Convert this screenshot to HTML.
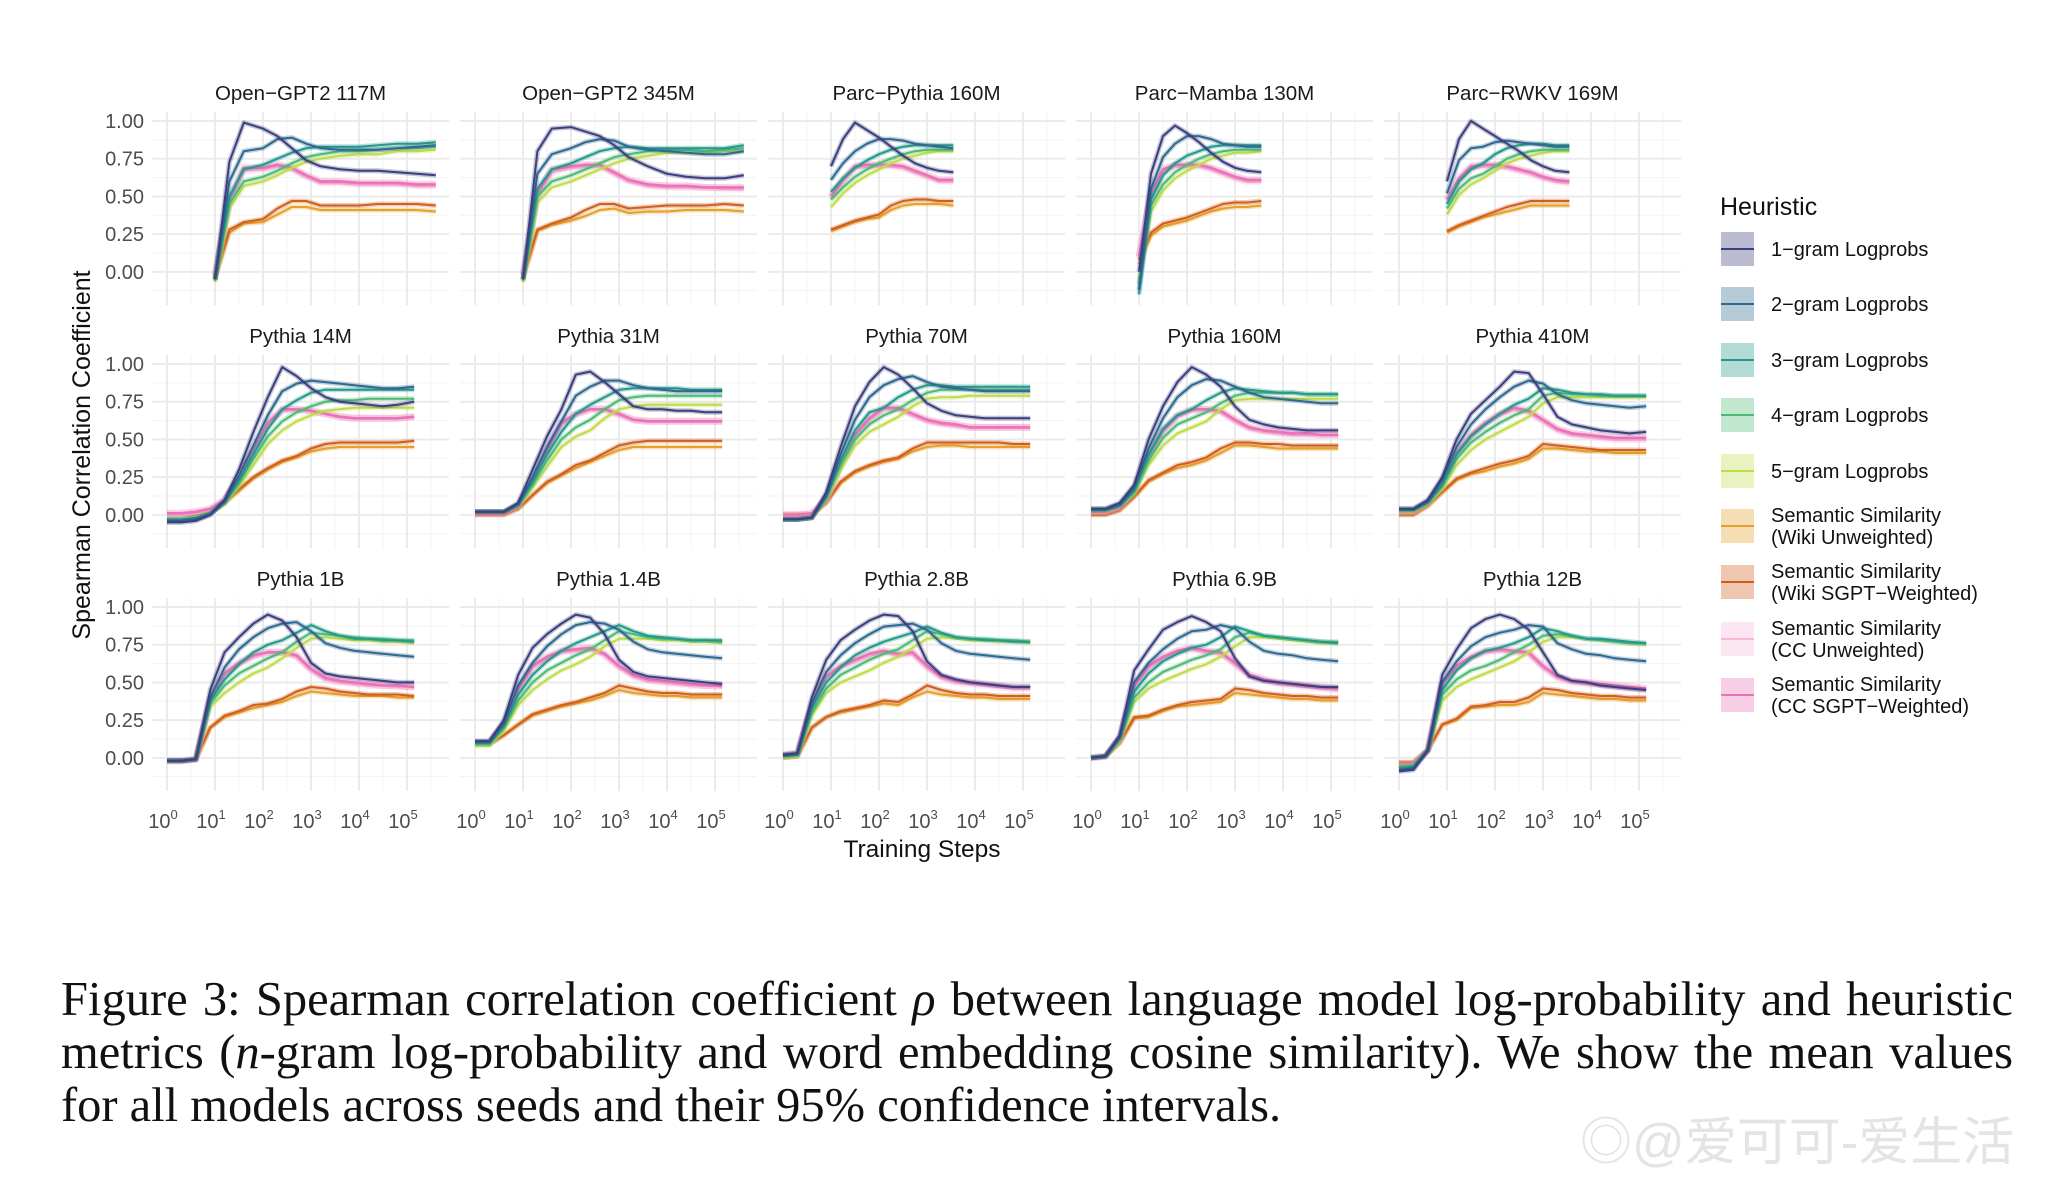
<!DOCTYPE html>
<html><head><meta charset="utf-8">
<style>
html,body{margin:0;padding:0;background:#fff;}
body{width:2064px;height:1182px;overflow:hidden;position:relative;}
svg{position:absolute;left:0;top:0;}
.cap{position:absolute;left:61px;width:1952px;font-family:"Liberation Serif",serif;font-size:48.5px;color:#111;white-space:nowrap;}
.j{text-align:justify;text-align-last:justify;}
.wm{position:absolute;left:1580px;top:1100px;font-family:"Liberation Sans","Noto Sans CJK SC",sans-serif;font-size:52px;color:#e4e4e4;}
</style></head>
<body>
<svg id="chart" width="2064" height="1182" xmlns="http://www.w3.org/2000/svg"></svg>
<div class="cap j" style="top:972px">Figure 3: Spearman correlation coefficient <i>ρ</i> between language model log-probability and heuristic</div>
<div class="cap j" style="top:1025px">metrics (<i>n</i>-gram log-probability and word embedding cosine similarity). We show the mean values</div>
<div class="cap" style="top:1078px">for all models across seeds and their 95% confidence intervals.</div>
<div class="wm">◎@爱可可-爱生活</div>
<script>
const panelTitles=["Open−GPT2 117M","Open−GPT2 345M","Parc−Pythia 160M","Parc−Mamba 130M","Parc−RWKV 169M","Pythia 14M","Pythia 31M","Pythia 70M","Pythia 160M","Pythia 410M","Pythia 1B","Pythia 1.4B","Pythia 2.8B","Pythia 6.9B","Pythia 12B"];
const seriesNames=["1−gram Logprobs","2−gram Logprobs","3−gram Logprobs","4−gram Logprobs","5−gram Logprobs","Semantic Similarity|(Wiki Unweighted)","Semantic Similarity|(Wiki SGPT−Weighted)","Semantic Similarity|(CC Unweighted)","Semantic Similarity|(CC SGPT−Weighted)"];
const seriesColors=["#3b3f7e","#2f6890","#22998a","#4dba74","#bfdc48","#e6a027","#d05e1c","#f6b8da","#ea72b6"];
const yTicks=[0,0.25,0.5,0.75,1.0];
const yTickLabels=["0.00","0.25","0.50","0.75","1.00"];
const xTicks=[0,1,2,3,4,5];
const xGptLog=[1.0,1.3,1.6,2.0,2.3,2.6,2.9,3.2,3.6,4.0,4.4,4.8,5.2,5.6];
const xParcLog=[1.0,1.25,1.5,1.75,2.0,2.25,2.5,2.75,3.0,3.25,3.55];
const xPythiaLog=[0,0.3,0.6,0.9,1.2,1.5,1.8,2.1,2.4,2.7,3.0,3.3,3.6,3.9,4.2,4.5,4.8,5.15];
const gpt117=[
[-0.05,0.73,0.99,0.95,0.9,0.82,0.74,0.7,0.68,0.67,0.67,0.66,0.65,0.64],
[-0.05,0.6,0.8,0.82,0.88,0.89,0.85,0.82,0.81,0.81,0.81,0.82,0.83,0.84],
[-0.05,0.5,0.68,0.71,0.75,0.79,0.82,0.83,0.83,0.83,0.84,0.85,0.85,0.86],
[-0.06,0.45,0.6,0.63,0.67,0.72,0.76,0.78,0.8,0.8,0.81,0.82,0.82,0.83],
[-0.07,0.42,0.57,0.6,0.64,0.69,0.73,0.75,0.77,0.78,0.78,0.8,0.8,0.81],
[-0.05,0.26,0.32,0.33,0.38,0.43,0.43,0.41,0.41,0.41,0.41,0.41,0.41,0.4],
[-0.03,0.28,0.33,0.35,0.42,0.47,0.47,0.44,0.44,0.44,0.45,0.45,0.45,0.44],
[-0.02,0.45,0.67,0.68,0.7,0.68,0.63,0.59,0.59,0.58,0.58,0.58,0.57,0.57],
[-0.02,0.48,0.69,0.69,0.71,0.69,0.64,0.6,0.6,0.59,0.59,0.59,0.58,0.58]];
const gpt345=[
[-0.05,0.8,0.95,0.96,0.93,0.9,0.84,0.76,0.7,0.65,0.63,0.62,0.62,0.64],
[-0.05,0.65,0.78,0.82,0.86,0.88,0.87,0.83,0.81,0.8,0.79,0.78,0.78,0.8],
[-0.05,0.55,0.68,0.72,0.76,0.8,0.82,0.83,0.82,0.82,0.82,0.82,0.82,0.84],
[-0.06,0.5,0.6,0.64,0.68,0.72,0.76,0.78,0.8,0.81,0.81,0.8,0.81,0.82],
[-0.07,0.46,0.56,0.6,0.64,0.68,0.72,0.75,0.77,0.79,0.79,0.79,0.8,0.8],
[-0.05,0.27,0.31,0.34,0.37,0.41,0.42,0.39,0.4,0.4,0.41,0.41,0.41,0.4],
[-0.03,0.28,0.32,0.36,0.41,0.45,0.45,0.42,0.43,0.44,0.44,0.44,0.45,0.44],
[-0.02,0.5,0.66,0.69,0.7,0.7,0.65,0.6,0.57,0.56,0.56,0.56,0.55,0.55],
[-0.02,0.52,0.68,0.7,0.71,0.71,0.66,0.61,0.58,0.57,0.57,0.56,0.56,0.56]];
const parcPythia=[
[0.7,0.88,0.99,0.94,0.89,0.83,0.77,0.72,0.69,0.67,0.66],
[0.61,0.72,0.8,0.85,0.88,0.88,0.87,0.85,0.84,0.83,0.82],
[0.53,0.62,0.69,0.74,0.78,0.81,0.83,0.84,0.84,0.84,0.84],
[0.48,0.56,0.63,0.68,0.72,0.75,0.78,0.8,0.81,0.81,0.81],
[0.43,0.52,0.59,0.64,0.68,0.72,0.75,0.77,0.79,0.8,0.8],
[0.27,0.3,0.33,0.35,0.36,0.41,0.44,0.45,0.45,0.45,0.44],
[0.28,0.31,0.34,0.36,0.38,0.44,0.47,0.48,0.48,0.47,0.47],
[0.49,0.6,0.69,0.7,0.7,0.7,0.69,0.66,0.63,0.6,0.6],
[0.5,0.61,0.7,0.71,0.71,0.71,0.7,0.67,0.64,0.61,0.61]];
const parcMamba=[
[0.0,0.65,0.9,0.97,0.92,0.86,0.79,0.73,0.69,0.67,0.66],
[-0.12,0.55,0.76,0.85,0.9,0.9,0.88,0.85,0.84,0.83,0.83],
[-0.15,0.48,0.64,0.72,0.77,0.8,0.83,0.84,0.84,0.84,0.84],
[-0.08,0.44,0.58,0.66,0.71,0.75,0.78,0.8,0.81,0.81,0.81],
[-0.06,0.4,0.54,0.62,0.67,0.71,0.75,0.77,0.79,0.79,0.8],
[0.05,0.24,0.3,0.32,0.34,0.37,0.4,0.42,0.43,0.43,0.44],
[0.08,0.26,0.32,0.34,0.36,0.39,0.42,0.45,0.46,0.46,0.47],
[0.1,0.5,0.66,0.7,0.7,0.7,0.68,0.65,0.62,0.6,0.6],
[0.1,0.52,0.68,0.71,0.71,0.71,0.69,0.66,0.63,0.61,0.61]];
const parcRwkv=[
[0.6,0.88,1.0,0.95,0.9,0.85,0.8,0.74,0.7,0.67,0.66],
[0.52,0.74,0.82,0.83,0.86,0.87,0.86,0.85,0.84,0.83,0.83],
[0.45,0.6,0.68,0.72,0.78,0.82,0.84,0.85,0.85,0.84,0.84],
[0.42,0.55,0.62,0.65,0.7,0.75,0.78,0.8,0.81,0.81,0.81],
[0.38,0.51,0.58,0.62,0.67,0.72,0.75,0.77,0.79,0.8,0.8],
[0.26,0.3,0.33,0.36,0.38,0.4,0.42,0.44,0.44,0.44,0.44],
[0.27,0.31,0.34,0.37,0.4,0.43,0.45,0.47,0.47,0.47,0.47],
[0.47,0.6,0.68,0.7,0.7,0.69,0.67,0.65,0.62,0.6,0.59],
[0.48,0.62,0.7,0.71,0.71,0.7,0.68,0.66,0.63,0.61,0.6]];
const pythia14m=[
[-0.05,-0.05,-0.04,0.0,0.1,0.3,0.55,0.78,0.98,0.92,0.84,0.78,0.75,0.74,0.73,0.72,0.73,0.75],
[-0.04,-0.04,-0.03,0.0,0.09,0.26,0.46,0.66,0.82,0.87,0.89,0.88,0.87,0.86,0.85,0.84,0.84,0.85],
[-0.03,-0.03,-0.02,0.01,0.08,0.23,0.4,0.57,0.7,0.76,0.81,0.83,0.83,0.83,0.83,0.83,0.83,0.83],
[-0.03,-0.03,-0.02,0.01,0.08,0.21,0.37,0.52,0.62,0.68,0.72,0.75,0.76,0.76,0.77,0.77,0.77,0.77],
[-0.03,-0.03,-0.02,0.01,0.07,0.19,0.33,0.47,0.56,0.62,0.66,0.69,0.7,0.71,0.71,0.71,0.71,0.71],
[0.0,0.0,0.0,0.02,0.08,0.16,0.24,0.3,0.35,0.38,0.42,0.44,0.45,0.45,0.45,0.45,0.45,0.45],
[0.0,0.0,0.0,0.02,0.08,0.17,0.25,0.31,0.36,0.39,0.44,0.47,0.48,0.48,0.48,0.48,0.48,0.49],
[0.0,0.0,0.01,0.03,0.1,0.24,0.42,0.6,0.69,0.7,0.69,0.67,0.65,0.64,0.64,0.64,0.64,0.65],
[0.01,0.01,0.02,0.04,0.1,0.25,0.43,0.61,0.7,0.7,0.69,0.67,0.65,0.64,0.64,0.64,0.64,0.65]];
const pythia31m=[
[0.02,0.02,0.02,0.08,0.3,0.52,0.7,0.93,0.95,0.88,0.8,0.72,0.7,0.7,0.69,0.69,0.68,0.68],
[0.02,0.02,0.02,0.07,0.25,0.45,0.62,0.79,0.85,0.89,0.89,0.86,0.84,0.83,0.82,0.82,0.82,0.82],
[0.02,0.02,0.02,0.07,0.22,0.4,0.55,0.67,0.73,0.78,0.83,0.84,0.84,0.84,0.84,0.83,0.83,0.83],
[0.02,0.02,0.02,0.06,0.2,0.36,0.5,0.58,0.63,0.7,0.76,0.78,0.79,0.79,0.79,0.79,0.79,0.79],
[0.02,0.02,0.02,0.06,0.18,0.32,0.45,0.52,0.56,0.64,0.7,0.72,0.73,0.73,0.73,0.73,0.73,0.73],
[0.0,0.0,0.0,0.04,0.13,0.21,0.26,0.31,0.35,0.39,0.43,0.45,0.45,0.45,0.45,0.45,0.45,0.45],
[0.0,0.0,0.0,0.04,0.13,0.22,0.27,0.33,0.36,0.41,0.46,0.48,0.49,0.49,0.49,0.49,0.49,0.49],
[0.01,0.01,0.01,0.06,0.22,0.42,0.6,0.66,0.7,0.7,0.66,0.63,0.62,0.62,0.62,0.62,0.62,0.62],
[0.01,0.01,0.01,0.06,0.22,0.43,0.61,0.67,0.7,0.7,0.67,0.63,0.62,0.62,0.62,0.62,0.62,0.62]];
const pythia70m=[
[-0.03,-0.03,-0.02,0.15,0.45,0.72,0.88,0.98,0.93,0.84,0.74,0.69,0.66,0.65,0.64,0.64,0.64,0.64],
[-0.03,-0.03,-0.02,0.13,0.4,0.63,0.78,0.86,0.9,0.92,0.88,0.85,0.84,0.83,0.82,0.82,0.82,0.82],
[-0.03,-0.03,-0.02,0.12,0.36,0.56,0.68,0.71,0.78,0.83,0.86,0.86,0.85,0.85,0.85,0.85,0.85,0.85],
[-0.03,-0.03,-0.02,0.11,0.33,0.5,0.6,0.66,0.7,0.76,0.81,0.83,0.83,0.83,0.83,0.83,0.83,0.83],
[-0.03,-0.03,-0.02,0.1,0.3,0.46,0.55,0.6,0.65,0.72,0.77,0.78,0.78,0.79,0.79,0.79,0.79,0.79],
[0.0,0.0,0.0,0.08,0.21,0.28,0.32,0.35,0.37,0.42,0.45,0.46,0.46,0.45,0.45,0.45,0.45,0.45],
[0.0,0.0,0.0,0.08,0.22,0.29,0.33,0.36,0.38,0.44,0.48,0.48,0.48,0.48,0.48,0.48,0.47,0.47],
[0.0,0.0,0.01,0.1,0.32,0.52,0.63,0.7,0.7,0.66,0.62,0.6,0.59,0.58,0.58,0.58,0.58,0.58],
[0.0,0.0,0.01,0.1,0.33,0.53,0.64,0.71,0.71,0.67,0.63,0.61,0.6,0.58,0.58,0.58,0.58,0.58]];
const pythia160m=[
[0.04,0.04,0.08,0.2,0.5,0.72,0.88,0.98,0.93,0.85,0.72,0.63,0.6,0.58,0.57,0.56,0.56,0.56],
[0.04,0.04,0.07,0.18,0.44,0.64,0.78,0.86,0.9,0.89,0.85,0.81,0.78,0.77,0.76,0.75,0.74,0.74],
[0.03,0.03,0.06,0.16,0.4,0.57,0.66,0.7,0.76,0.81,0.84,0.83,0.82,0.81,0.81,0.8,0.8,0.8],
[0.03,0.03,0.06,0.15,0.36,0.51,0.6,0.64,0.68,0.74,0.79,0.81,0.81,0.81,0.81,0.8,0.8,0.8],
[0.03,0.03,0.06,0.14,0.33,0.46,0.54,0.58,0.62,0.7,0.76,0.77,0.77,0.77,0.77,0.77,0.77,0.77],
[0.0,0.0,0.03,0.12,0.22,0.27,0.31,0.33,0.36,0.41,0.46,0.46,0.45,0.44,0.44,0.44,0.44,0.44],
[0.0,0.0,0.03,0.12,0.23,0.28,0.33,0.35,0.38,0.44,0.48,0.48,0.47,0.47,0.46,0.46,0.46,0.46],
[0.02,0.02,0.05,0.16,0.38,0.55,0.65,0.69,0.7,0.68,0.62,0.57,0.55,0.54,0.53,0.53,0.53,0.53],
[0.02,0.02,0.05,0.16,0.39,0.56,0.66,0.7,0.7,0.69,0.63,0.58,0.56,0.55,0.54,0.54,0.53,0.53]];
const pythia410m=[
[0.04,0.04,0.1,0.25,0.5,0.67,0.76,0.85,0.95,0.94,0.8,0.65,0.6,0.58,0.56,0.55,0.54,0.55],
[0.04,0.04,0.09,0.23,0.45,0.6,0.7,0.78,0.85,0.89,0.87,0.8,0.76,0.74,0.73,0.72,0.71,0.72],
[0.03,0.03,0.08,0.2,0.4,0.52,0.6,0.67,0.73,0.77,0.84,0.83,0.81,0.8,0.8,0.79,0.79,0.79],
[0.03,0.03,0.08,0.19,0.37,0.48,0.55,0.61,0.66,0.7,0.79,0.81,0.8,0.8,0.79,0.79,0.79,0.79],
[0.02,0.02,0.07,0.17,0.33,0.43,0.5,0.55,0.6,0.65,0.74,0.78,0.78,0.78,0.78,0.78,0.78,0.78],
[0.0,0.0,0.06,0.15,0.23,0.27,0.29,0.32,0.34,0.37,0.44,0.44,0.43,0.42,0.42,0.41,0.41,0.41],
[0.0,0.0,0.06,0.15,0.24,0.28,0.31,0.34,0.36,0.39,0.47,0.46,0.45,0.44,0.43,0.43,0.43,0.43],
[0.02,0.02,0.08,0.2,0.4,0.52,0.6,0.66,0.7,0.68,0.62,0.56,0.53,0.52,0.51,0.5,0.5,0.5],
[0.02,0.02,0.08,0.2,0.41,0.53,0.61,0.67,0.71,0.69,0.63,0.57,0.54,0.53,0.52,0.51,0.51,0.51]];
const pythia1b=[
[-0.02,-0.02,-0.01,0.45,0.7,0.8,0.89,0.95,0.91,0.8,0.63,0.56,0.54,0.53,0.52,0.51,0.5,0.5],
[-0.02,-0.02,-0.01,0.4,0.6,0.72,0.8,0.86,0.89,0.9,0.84,0.76,0.73,0.71,0.7,0.69,0.68,0.67],
[-0.02,-0.02,-0.01,0.38,0.52,0.62,0.7,0.75,0.78,0.83,0.88,0.84,0.81,0.79,0.79,0.78,0.78,0.77],
[-0.02,-0.02,-0.01,0.36,0.48,0.56,0.61,0.66,0.7,0.77,0.83,0.82,0.81,0.8,0.79,0.79,0.78,0.78],
[-0.02,-0.02,-0.01,0.34,0.43,0.5,0.56,0.6,0.66,0.73,0.79,0.8,0.79,0.78,0.78,0.77,0.77,0.76],
[-0.02,-0.02,-0.01,0.2,0.27,0.3,0.33,0.35,0.37,0.41,0.44,0.43,0.42,0.41,0.41,0.41,0.4,0.4],
[-0.02,-0.02,-0.01,0.2,0.28,0.31,0.35,0.36,0.39,0.44,0.47,0.46,0.44,0.43,0.42,0.42,0.42,0.41],
[-0.02,-0.02,-0.01,0.38,0.55,0.62,0.67,0.7,0.7,0.67,0.58,0.52,0.5,0.49,0.48,0.48,0.47,0.47],
[-0.02,-0.02,-0.01,0.39,0.56,0.63,0.68,0.7,0.7,0.68,0.59,0.53,0.51,0.5,0.49,0.48,0.48,0.47]];
const pythia1_4b=[
[0.11,0.11,0.25,0.55,0.73,0.82,0.89,0.95,0.93,0.82,0.65,0.57,0.54,0.53,0.52,0.51,0.5,0.49],
[0.11,0.11,0.23,0.48,0.63,0.74,0.82,0.88,0.9,0.89,0.85,0.77,0.72,0.7,0.69,0.68,0.67,0.66],
[0.1,0.1,0.21,0.42,0.55,0.64,0.71,0.76,0.8,0.84,0.88,0.84,0.81,0.8,0.79,0.78,0.78,0.78],
[0.09,0.09,0.2,0.38,0.5,0.58,0.63,0.68,0.72,0.78,0.84,0.82,0.8,0.79,0.79,0.78,0.78,0.77],
[0.08,0.08,0.18,0.35,0.45,0.52,0.58,0.62,0.67,0.74,0.79,0.79,0.79,0.78,0.78,0.77,0.77,0.76],
[0.09,0.09,0.15,0.22,0.28,0.31,0.34,0.36,0.38,0.41,0.45,0.43,0.42,0.41,0.41,0.4,0.4,0.4],
[0.09,0.09,0.15,0.22,0.29,0.32,0.35,0.37,0.4,0.43,0.48,0.46,0.44,0.43,0.43,0.42,0.42,0.42],
[0.1,0.1,0.22,0.45,0.6,0.66,0.7,0.71,0.72,0.68,0.6,0.54,0.51,0.5,0.49,0.48,0.48,0.47],
[0.1,0.1,0.22,0.46,0.61,0.67,0.71,0.72,0.73,0.69,0.61,0.55,0.52,0.51,0.5,0.49,0.48,0.48]];
const pythia2_8b=[
[0.02,0.03,0.4,0.65,0.78,0.85,0.91,0.95,0.94,0.84,0.64,0.55,0.52,0.5,0.49,0.48,0.47,0.47],
[0.02,0.03,0.36,0.57,0.68,0.76,0.82,0.87,0.88,0.89,0.85,0.76,0.71,0.69,0.68,0.67,0.66,0.65],
[0.01,0.02,0.33,0.5,0.6,0.68,0.73,0.77,0.8,0.83,0.87,0.83,0.8,0.79,0.78,0.78,0.77,0.77],
[0.01,0.02,0.3,0.46,0.55,0.6,0.65,0.69,0.72,0.78,0.84,0.82,0.8,0.79,0.79,0.78,0.78,0.77],
[0.0,0.01,0.28,0.43,0.5,0.54,0.58,0.63,0.67,0.73,0.79,0.8,0.79,0.78,0.78,0.77,0.77,0.76],
[0.0,0.01,0.2,0.27,0.3,0.32,0.34,0.36,0.35,0.4,0.44,0.42,0.41,0.4,0.4,0.39,0.39,0.39],
[0.0,0.01,0.2,0.27,0.31,0.33,0.35,0.38,0.37,0.42,0.48,0.45,0.43,0.42,0.42,0.41,0.41,0.41],
[0.02,0.03,0.34,0.53,0.6,0.64,0.68,0.7,0.68,0.69,0.6,0.53,0.5,0.49,0.48,0.47,0.46,0.46],
[0.02,0.03,0.35,0.54,0.61,0.65,0.69,0.71,0.69,0.7,0.61,0.54,0.51,0.5,0.49,0.48,0.47,0.47]];
const pythia6_9b=[
[0.0,0.01,0.15,0.58,0.72,0.85,0.9,0.94,0.9,0.84,0.66,0.54,0.51,0.5,0.49,0.48,0.47,0.47],
[0.0,0.01,0.14,0.5,0.63,0.72,0.79,0.84,0.85,0.88,0.86,0.77,0.71,0.69,0.68,0.66,0.65,0.64],
[0.0,0.01,0.13,0.44,0.56,0.64,0.69,0.73,0.75,0.8,0.87,0.84,0.81,0.8,0.79,0.78,0.77,0.76],
[0.0,0.01,0.12,0.4,0.5,0.57,0.61,0.65,0.68,0.72,0.8,0.83,0.81,0.8,0.79,0.78,0.77,0.77],
[0.0,0.01,0.11,0.37,0.46,0.51,0.55,0.59,0.62,0.67,0.74,0.8,0.8,0.79,0.78,0.77,0.76,0.76],
[0.0,0.01,0.1,0.26,0.27,0.31,0.34,0.35,0.36,0.37,0.43,0.42,0.41,0.4,0.39,0.39,0.38,0.38],
[0.0,0.01,0.1,0.27,0.28,0.32,0.35,0.37,0.38,0.39,0.46,0.45,0.43,0.42,0.41,0.41,0.4,0.4],
[0.0,0.01,0.13,0.47,0.6,0.66,0.7,0.72,0.7,0.69,0.62,0.54,0.51,0.49,0.48,0.47,0.46,0.45],
[0.0,0.01,0.13,0.48,0.61,0.67,0.71,0.73,0.71,0.7,0.63,0.55,0.52,0.5,0.49,0.48,0.47,0.46]];
const pythia12b=[
[-0.09,-0.08,0.05,0.55,0.72,0.86,0.92,0.95,0.92,0.85,0.7,0.55,0.51,0.5,0.48,0.47,0.46,0.45],
[-0.08,-0.07,0.05,0.5,0.64,0.74,0.8,0.83,0.85,0.88,0.87,0.76,0.72,0.69,0.68,0.66,0.65,0.64],
[-0.07,-0.06,0.05,0.45,0.58,0.66,0.71,0.73,0.76,0.8,0.86,0.84,0.81,0.79,0.79,0.78,0.77,0.76],
[-0.06,-0.05,0.05,0.42,0.52,0.58,0.61,0.65,0.7,0.75,0.81,0.82,0.81,0.79,0.78,0.77,0.76,0.76],
[-0.06,-0.05,0.05,0.38,0.47,0.52,0.56,0.6,0.64,0.7,0.77,0.8,0.8,0.79,0.78,0.77,0.76,0.75],
[-0.03,-0.03,0.05,0.22,0.25,0.33,0.34,0.35,0.35,0.37,0.43,0.42,0.41,0.4,0.39,0.39,0.38,0.38],
[-0.03,-0.03,0.05,0.22,0.26,0.34,0.35,0.37,0.37,0.4,0.46,0.45,0.43,0.42,0.41,0.41,0.4,0.4],
[-0.05,-0.04,0.05,0.48,0.6,0.66,0.7,0.71,0.7,0.69,0.6,0.53,0.5,0.49,0.48,0.47,0.46,0.45],
[-0.05,-0.04,0.05,0.49,0.61,0.67,0.71,0.72,0.71,0.7,0.61,0.54,0.51,0.5,0.49,0.48,0.47,0.46]];

const panelData=[gpt117,gpt345,parcPythia,parcMamba,parcRwkv,pythia14m,pythia31m,pythia70m,pythia160m,pythia410m,pythia1b,pythia1_4b,pythia2_8b,pythia6_9b,pythia12b];
const panelX=[xGptLog,xGptLog,xParcLog,xParcLog,xParcLog,xPythiaLog,xPythiaLog,xPythiaLog,xPythiaLog,xPythiaLog,xPythiaLog,xPythiaLog,xPythiaLog,xPythiaLog,xPythiaLog];

const NS="http://www.w3.org/2000/svg";
const svg=document.getElementById('chart');
function mk(tag,attrs,parent){const e=document.createElementNS(NS,tag);for(const k in attrs)e.setAttribute(k,attrs[k]);(parent||svg).appendChild(e);return e;}
const PW=297,PH=193,YMAX=1.06,YMIN=-0.22;
function colLeft(c){return 152+308*c;}
function rowTop(r){return 112+243*r;}
function xScale(c,lg){return colLeft(c)+15+48*lg;}
function yScale(r,v){return rowTop(r)+(YMAX-v)*PH/(YMAX-YMIN);}
const FONT='"Liberation Sans", Arial, sans-serif';

for(let p=0;p<15;p++){
  const r=Math.floor(p/5),c=p%5;
  const g=mk('g',{});
  
  
  const L=colLeft(c),T=rowTop(r);
  for(let v=-0.125;v<1.06;v+=0.25){const y=yScale(r,v);const l=mk('line',{x1:L,x2:L+PW,y1:y,y2:y,stroke:'#f3f3f3','stroke-width':1},g);}
  for(let lg=-0.5;lg<5.9;lg+=1){const x=xScale(c,lg);if(x<L)continue;const l=mk('line',{x1:x,x2:x,y1:T,y2:T+PH,stroke:'#f3f3f3','stroke-width':1},g);}
  yTicks.forEach(v=>{const y=yScale(r,v);const l=mk('line',{x1:L,x2:L+PW,y1:y,y2:y,stroke:'#ebebeb','stroke-width':2},g);});
  xTicks.forEach(lg=>{const x=xScale(c,lg);const l=mk('line',{x1:x,x2:x,y1:T,y2:T+PH,stroke:'#ebebeb','stroke-width':2},g);});
  const t=mk('text',{x:L+PW/2,y:T-12,'text-anchor':'middle','font-family':FONT,'font-size':20.5,fill:'#1a1a1a'},g);
  t.textContent=panelTitles[p];
  
  
  if(c===0){yTicks.forEach((v,i)=>{const tt=mk('text',{x:144,y:yScale(r,v)+7,'text-anchor':'end','font-family':FONT,'font-size':20,fill:'#4d4d4d'},g);tt.textContent=yTickLabels[i];});}
  if(r===2){xTicks.forEach(lg=>{const tt=mk('text',{x:xScale(c,lg)-4,y:828,'text-anchor':'middle','font-family':FONT,'font-size':20,fill:'#4d4d4d'},g);tt.textContent='10';const sp=mk('tspan',{dy:-9,'font-size':13},tt);sp.textContent=String(lg);});}
  const xs=panelX[p];
  const data=panelData[p];
  const order=[5,6,7,8,4,3,2,1,0];
  order.forEach(s=>{
    const pts=data[s].map((v,i)=>xScale(c,xs[i]).toFixed(1)+','+yScale(r,v).toFixed(1)).join(' ');
    const band=mk('polyline',{points:pts,fill:'none',stroke:seriesColors[s],'stroke-opacity':0.3,'stroke-width':s>=7?7:5,'stroke-linejoin':'round'},g);
    
    
    const ln=mk('polyline',{points:pts,fill:'none',stroke:seriesColors[s],'stroke-width':s>=7?2.6:2,'stroke-linejoin':'round'},g);
    
    
  });
}
const yt=mk('text',{x:0,y:0,transform:'translate(90,455) rotate(-90)','text-anchor':'middle','font-family':FONT,'font-size':25,fill:'#111'});
yt.textContent='Spearman Correlation Coefficient';


const xt=mk('text',{x:922,y:857,'text-anchor':'middle','font-family':FONT,'font-size':24.5,fill:'#111'});
xt.textContent='Training Steps';


const LX=1721;
const lg=mk('g',{});


const lt=mk('text',{x:LX-1,y:215,'font-family':FONT,'font-size':25,fill:'#111'},lg);
lt.textContent='Heuristic';


const legY=[249,304,360,415,471,526,582,639,695];
seriesNames.forEach((nm,i)=>{
  const eg=mk('g',{},lg);
  
  
  const cy=legY[i];
  mk('rect',{x:LX,y:cy-17,width:33,height:34,fill:seriesColors[i],'fill-opacity':0.35},eg);
  mk('line',{x1:LX,x2:LX+33,y1:cy,y2:cy,stroke:seriesColors[i],'stroke-width':2},eg);
  const parts=nm.split('|');
  if(parts.length===1){const tx=mk('text',{x:LX+50,y:cy+7,'font-family':FONT,'font-size':20,fill:'#111'},eg);tx.textContent=parts[0];}
  else{parts.forEach((pt,k)=>{const tx=mk('text',{x:LX+50,y:cy-4+k*22,'font-family':FONT,'font-size':20,fill:'#111'},eg);tx.textContent=pt;});}
});
</script>
</body></html>
